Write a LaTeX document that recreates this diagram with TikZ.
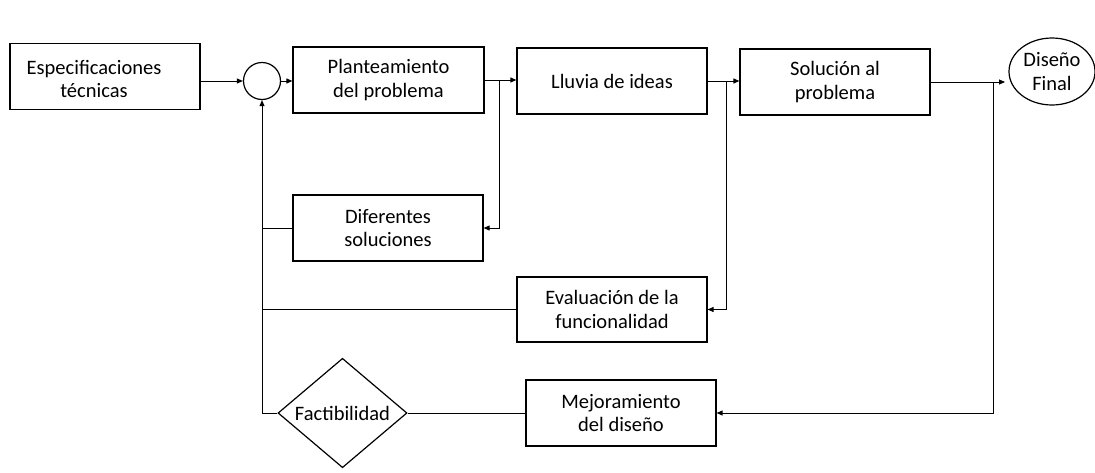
\documentclass[tikz,border=0pt]{standalone}
\usepackage{fontspec}
\setmainfont{Carlito}
\usetikzlibrary{arrows.meta,shapes.geometric,calc}
\tikzset{
  txt/.style={font=\fontsize{20.5}{23.5}\selectfont, align=center},
  box/.style={draw, line width=1.2pt, minimum width=190pt, minimum height=66pt, inner sep=0pt, txt},
  conn/.style={line width=0.9pt},
  arr/.style={conn, -{Triangle[length=6pt,width=5pt]}}
}
\begin{document}
\begin{tikzpicture}[x=1pt,y=-1pt]
\useasboundingbox (0,0) rectangle (1095,472);
\node[box] (esp) at (105,76.5) {};
\node[txt] (espt) at (94,79) {Especificaciones\\técnicas};
\node[draw, circle, line width=1.2pt, minimum size=37pt, inner sep=0pt] (c) at (262,81) {};
\node[box, minimum width=191pt] (plan) at (388.5,80) {Planteamiento\\del problema};
\node[box] (lluv) at (612,81) {Lluvia de ideas};
\node[box] (sol) at (835,82) {Solución al\\problema};
\node[draw, ellipse, line width=1.2pt, minimum width=86pt, minimum height=67pt, inner sep=0pt, txt] (dis) at (1052,71.5) {Diseño\\Final};
\node[box] (dif) at (388,228) {Diferentes\\soluciones};
\node[box, minimum height=65pt] (eval) at (612,309.5) {Evaluación de la\\funcionalidad};
\node[draw, diamond, line width=1.2pt, minimum width=129pt, minimum height=106pt, inner sep=0pt, txt] (fac) at (342.5,413) {Factibilidad};
\node[box] (mej) at (621,413) {Mejoramiento\\del diseño};
% forward path
\draw[arr] (esp.east |- c.west) -- (c.west);
\draw[arr] (c.east) -- (c.east -| plan.west);
\draw[arr] (plan.east) -- (plan.east -| lluv.west);
\draw[arr] (lluv.east) -- (lluv.east -| sol.west);
\coordinate (dt) at (1005,82);
\draw[arr] (sol.east) -- (dt);
% branches
\coordinate (b1) at (499,80);
\coordinate (b2) at (726,81);
\coordinate (b3) at (993,82);
\draw[arr] (b1) |- (dif.east);
\draw[arr] (b2) |- (eval.east);
\draw[arr] (b3) |- (mej.east);
\draw[conn] (mej.west) -- (fac.east);
% feedback
\coordinate (fb) at (262,413);
\draw[conn] (fac.west) -- (fb);
\draw[arr] (fb) -- (c.south);
\draw[conn] (dif.west) -- (dif.west -| c.south);
\draw[conn] (eval.west) -- (eval.west -| c.south);
\end{tikzpicture}
\end{document}
